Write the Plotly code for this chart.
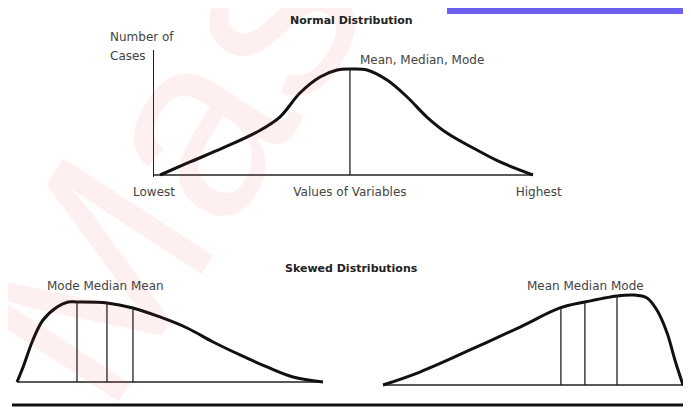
import plotly.graph_objects as go

# reference size; the page body adds an 8px offset, so the figure is drawn 8px smaller
W, H = 691, 416
OFF = 8
FW, FH = W - OFF, H - OFF

# ---- data (arbitrary units 0-100) ----
# normal distribution
normal_x = [1.6, 9.5, 18.2, 27.2, 33.2, 38.5, 43.8, 48.3, 51.7, 56.2, 61.5, 66.8, 72.0, 77.3, 84.2, 91.3, 100]
normal_y = [0, 12.3, 25.5, 40.6, 54.7, 77.4, 92.5, 99.1, 100, 99.1, 89.6, 73.6, 54.7, 39.6, 25.5, 12.3, 0]
normal_center = 51.7
normal_ticks = ["Lowest", "Values of Variables", "Highest"]

# positively skewed (left)
pos_x = [0, 2.0, 5.2, 8.5, 13.1, 16.7, 19.6, 29.4, 37.9, 46.7, 55.6, 64.1, 72.9, 81.7, 90.2, 100]
pos_y = [0, 18.8, 52.5, 77.5, 93.8, 100, 100, 98.8, 92.5, 81.3, 67.5, 50, 33.8, 18.8, 6.3, 0]
pos_lines_x = [19.6, 29.4, 37.9]     # mode, median, mean
pos_lines_y = [100, 98.8, 92.5]

# negatively skewed (right)
neg_x = [0, 12.3, 29.0, 45.7, 59.0, 67.3, 78.0, 83.3, 88.0, 91.3, 94.7, 97.3, 100]
neg_y = [0, 14.4, 38.9, 64.4, 85.6, 92.2, 98.9, 100, 96.7, 83.3, 57.8, 27.8, 0]
neg_lines_x = [59.3, 67.3, 78.0]     # mean, median, mode
neg_lines_y = [85.6, 92.2, 98.9]


def px(x):
    return (x - OFF) / FW


def py(y):
    return 1 - (y - OFF) / FH


def xdom(px0, px100, rng):
    b = (px100 - px0) / 100
    return [px(px0 + b * rng[0]), px(px0 + b * rng[1])]


def ydom(py0, py100, rng):
    b = (py0 - py100) / 100
    return [py(py0 - b * rng[0]), py(py0 - b * rng[1])]


CURVE = dict(color="#111111", width=3, shape="spline", smoothing=1)
THIN = dict(color="#222222", width=1.3)

fig = go.Figure()

# top panel
fig.add_trace(go.Scatter(x=[0, 100], y=[0, 0], mode="lines", line=THIN, xaxis="x", yaxis="y"))
fig.add_trace(go.Scatter(x=normal_x, y=normal_y, mode="lines", line=CURVE, xaxis="x", yaxis="y"))
fig.add_trace(go.Scatter(x=[normal_center, normal_center], y=[0, 100], mode="lines", line=THIN,
                         xaxis="x", yaxis="y"))

# bottom left
fig.add_trace(go.Scatter(x=[0, 100], y=[0, 0], mode="lines", line=THIN, xaxis="x2", yaxis="y2"))
fig.add_trace(go.Scatter(x=pos_x, y=pos_y, mode="lines", line=CURVE, xaxis="x2", yaxis="y2"))
for lx, ly in zip(pos_lines_x, pos_lines_y):
    fig.add_trace(go.Scatter(x=[lx, lx], y=[0, ly], mode="lines", line=THIN, xaxis="x2", yaxis="y2"))

# bottom right
fig.add_trace(go.Scatter(x=[0, 100], y=[0, 0], mode="lines", line=THIN, xaxis="x3", yaxis="y3"))
fig.add_trace(go.Scatter(x=neg_x, y=neg_y, mode="lines", line=CURVE, xaxis="x3", yaxis="y3"))
for lx, ly in zip(neg_lines_x, neg_lines_y):
    fig.add_trace(go.Scatter(x=[lx, lx], y=[0, ly], mode="lines", line=THIN, xaxis="x3", yaxis="y3"))

xr1, yr1 = [0, 101.5], [-1.5, 118]
xr2, yr2 = [-1.5, 101.5], [-3, 108]
hidden = dict(visible=False, fixedrange=True, automargin=False)

fig.update_layout(
    width=FW, height=FH,
    margin=dict(l=0, r=0, t=0, b=0, pad=0, autoexpand=False),
    paper_bgcolor="white", plot_bgcolor="rgba(0,0,0,0)",
    showlegend=False,
    font=dict(family="DejaVu Sans", size=12, color="#444444"),
    xaxis=dict(domain=xdom(154, 533, xr1), range=xr1, anchor="y", showgrid=False, zeroline=False,
               showline=False, ticks="", tickvals=[0, normal_center, xr1[1]], ticktext=normal_ticks,
               ticklabelstandoff=6, tickfont=dict(size=12, color="#444444"), fixedrange=True,
               automargin=False),
    yaxis=dict(domain=ydom(175, 69, yr1), range=yr1, anchor="x", showgrid=False, zeroline=False,
               showline=True, linecolor="#222222", linewidth=1.3, showticklabels=False, ticks="",
               fixedrange=True, automargin=False),
    xaxis2=dict(domain=xdom(17, 323, xr2), range=xr2, anchor="y2", **hidden),
    yaxis2=dict(domain=ydom(382, 302, yr2), range=yr2, anchor="x2", **hidden),
    xaxis3=dict(domain=xdom(383, 683, xr2), range=xr2, anchor="y3", **hidden),
    yaxis3=dict(domain=ydom(385, 295, yr2), range=yr2, anchor="x3", **hidden),
)

# watermark (faint, behind the drawing)
fig.add_annotation(text="Mas", xref="paper", yref="paper", x=px(165), y=py(165), showarrow=False,
                   xanchor="center", yanchor="middle", textangle=-57,
                   font=dict(family="Liberation Sans", size=260, color="rgba(235,40,40,0.07)"))

bold = dict(family="DejaVu Sans", size=11, color="#222222", weight="bold")
label = dict(family="DejaVu Sans", size=12, color="#444444")
ann = [
    dict(text="Normal Distribution", x=px(351), y=py(20), font=bold),
    dict(text="Skewed Distributions", x=px(351), y=py(268), font=bold),
    dict(text="Number of", x=px(108), y=py(37), xanchor="left", font=label),
    dict(text="Cases", x=px(108), y=py(56), xanchor="left", font=label),
    dict(text="Mean, Median, Mode", x=px(358), y=py(60), xanchor="left", font=label),
    dict(text="Mode Median Mean", x=px(45), y=py(286), xanchor="left", font=label),
    dict(text="Mean Median Mode", x=px(525), y=py(286), xanchor="left", font=label),
]
for a in ann:
    fig.add_annotation(xref="paper", yref="paper", showarrow=False, yanchor="middle",
                       **({"xanchor": "center"} | a))

# decorations: rule at the bottom, banner top-right, teal blob at left edge
fig.add_shape(type="line", xref="paper", yref="paper", x0=px(12), x1=1, y0=py(405), y1=py(405),
              line=dict(color="#111111", width=3))
fig.add_shape(type="rect", xref="paper", yref="paper", x0=px(447), x1=1.02, y0=py(14), y1=1.05,
              fillcolor="#6d5ff2", line=dict(width=0))
fig.add_shape(type="circle", xref="paper", yref="paper", x0=px(-40), x1=px(6), y0=py(135), y1=py(62),
              fillcolor="#9fd9cf", line=dict(width=0), opacity=0.8)

fig.write_html("out.html")
